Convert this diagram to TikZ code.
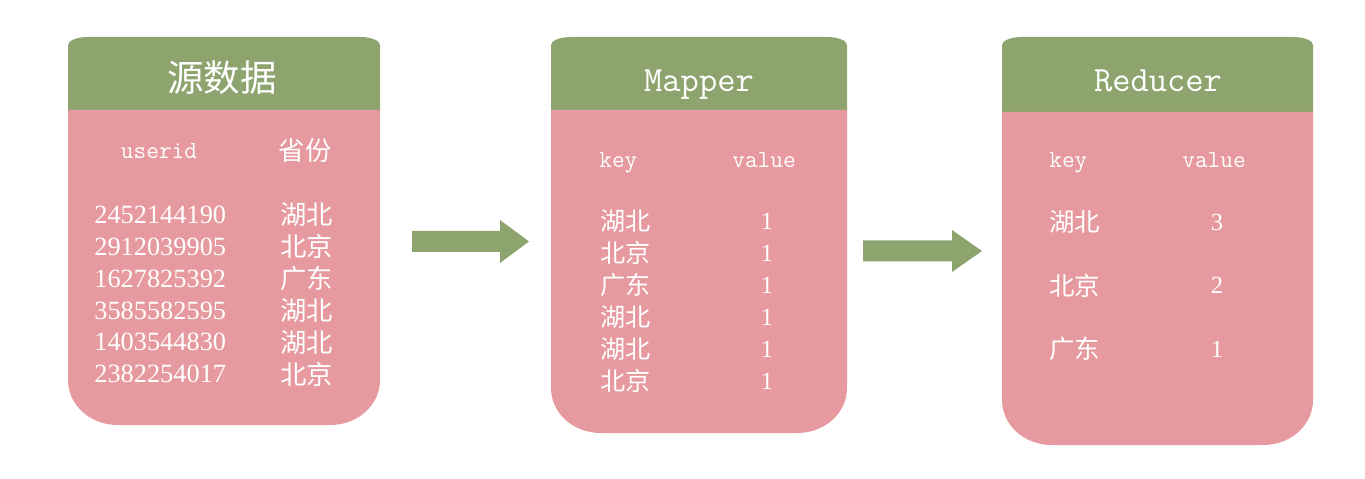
\documentclass[tikz,border=0pt]{standalone}
\usepackage{fontspec}
\setmainfont{Liberation Serif}
\newfontfamily\cjk{Noto Sans CJK SC}
\usetikzlibrary{positioning}
\definecolor{hdrgreen}{RGB}{142,164,110}
\definecolor{bodypink}{RGB}{230,153,158}
% card: left, top, right, header bottom, bottom (pixel units)
\newcommand{\card}[5]{%
  \fill[hdrgreen] (#1,#4) -- (#1,#2+8) .. controls (#1,#2+3.6) and (#1+9,#2) .. (#1+20,#2)
    -- (#3-20,#2) .. controls (#3-9,#2) and (#3,#2+3.6) .. (#3,#2+8) -- (#3,#4) -- cycle;
  \fill[bodypink] (#1,#4) -- (#1,#5-45) .. controls (#1,#5-20) and (#1+22,#5) .. (#1+50,#5)
    -- (#3-50,#5) .. controls (#3-22,#5) and (#3,#5-20) .. (#3,#5-45) -- (#3,#4) -- cycle;}
% block arrow: shaft start, head start, tip, centre line, half shaft, half head
\newcommand{\blockarrow}[6]{%
  \fill[hdrgreen] (#1,#4-#5) -- (#2,#4-#5) -- (#2,#4-#6) -- (#3,#4)
    -- (#2,#4+#6) -- (#2,#4+#5) -- (#1,#4+#5) -- cycle;}

\begin{document}
\begin{tikzpicture}
  [x=0.02cm, y=-0.02cm,
  % STYLES
  every node/.style={text=white, inner sep=0pt},
  % The title style is used for the card headings
  title/.style={font=\ttfamily\fontsize{20.2}{24}\selectfont, anchor=base},
  % The colhead style is used for the column names
  colhead/.style={font=\ttfamily\fontsize{14}{17}\selectfont, anchor=base},
  % Chinese text and numbers in the cards
  zh/.style={font=\cjk\fontsize{#1}{#1}\selectfont},
  num/.style={font=\fontsize{#1}{#1}\selectfont}]

  \useasboundingbox (0,0) rectangle (1365,479);

  % cards
  \card{68}{37}{380}{110}{425}
  \card{551}{37}{847}{110}{433}
  \card{1002}{37}{1313}{112}{445}

  % arrows between the cards
  \blockarrow{412}{500}{529}{241.5}{10.5}{21.5}
  \blockarrow{863}{952}{982}{251}{10.5}{21}

  % source data card
  \node [zh=20.8] (SrcTitle) at (222,78) {源数据};
  \node [colhead] (SrcUser) at (159,159) {userid};
  \node [zh=15] (SrcProv) at (305,151) {省份};
  \foreach \id/\prov [count=\i] in {2452144190/湖北, 2912039905/北京,
      1627825392/广东, 3585582595/湖北, 1403544830/湖北, 2382254017/北京} {
    \node [num=15, anchor=west] (SrcId\i) at (94,{215+31.8*(\i-1)}) {\id};
    \node [zh=15, anchor=west] (SrcPv\i) at (280,{215+31.8*(\i-1)}) {\prov};
  }

  % mapper card
  \node [title] (MapTitle) at (699,92) {Mapper};
  \node [colhead, anchor=base west] (MapKey) at (599,168) {key};
  \node [colhead] (MapValue) at (764,168) {value};
  \foreach \key [count=\i] in {湖北, 北京, 广东, 湖北, 湖北, 北京} {
    \node [zh=14.3, anchor=west] (MapK\i) at (600,{221+32*(\i-1)}) {\key};
    \node [num=14] (MapV\i) at (767,{221+32*(\i-1)}) {1};
  }

  % reducer card
  \node [title] (RedTitle) at (1158,92) {Reducer};
  \node [colhead, anchor=base west] (RedKey) at (1049,168) {key};
  \node [colhead] (RedValue) at (1214,168) {value};
  \foreach \key/\val [count=\i] in {湖北/3, 北京/2, 广东/1} {
    \node [zh=14.5, anchor=west] (RedK\i) at (1049,{222+63.5*(\i-1)}) {\key};
    \node [num=14] (RedV\i) at (1217,{222+63.5*(\i-1)}) {\val};
  }

\end{tikzpicture}
\end{document}
